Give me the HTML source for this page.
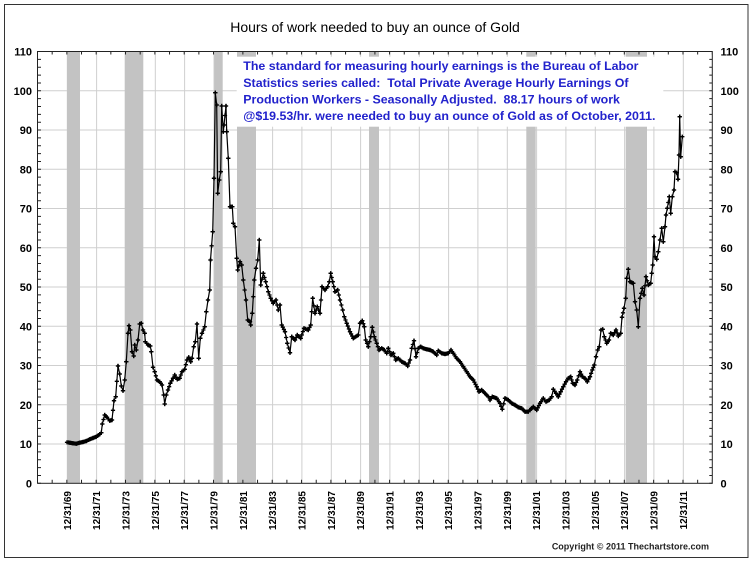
<!DOCTYPE html>
<html><head><meta charset="utf-8"><style>
html,body{margin:0;padding:0;background:#fff;}
svg{display:block;}
text{font-family:"Liberation Sans",Arial,sans-serif;}
</style></head><body>
<svg id="s" width="750" height="562" viewBox="0 0 750 562" xmlns="http://www.w3.org/2000/svg">
<defs>
<marker id="m" markerWidth="5" markerHeight="5" refX="2.5" refY="2.5" markerUnits="userSpaceOnUse"><path d="M0.4 2.5H4.6M2.5 0.4V4.6" stroke="#000" stroke-width="1.35" fill="none"/></marker>
</defs>
<rect x="0" y="0" width="750" height="562" fill="#fff"/>
<rect x="4.5" y="4.5" width="743.5" height="553" fill="#fff" stroke="#333" stroke-width="1"/>
<text x="375" y="32" font-size="14" text-anchor="middle" fill="#000">Hours of work needed to buy an ounce of Gold</text>
<rect x="37.5" y="51.5" width="674.8" height="431.8" fill="#fff"/>
<g stroke="#cfcfcf" stroke-width="1">
<line x1="37.5" x2="712.3" y1="444.05" y2="444.05"/>
<line x1="37.5" x2="712.3" y1="404.8" y2="404.8"/>
<line x1="37.5" x2="712.3" y1="365.55" y2="365.55"/>
<line x1="37.5" x2="712.3" y1="326.3" y2="326.3"/>
<line x1="37.5" x2="712.3" y1="287.05" y2="287.05"/>
<line x1="37.5" x2="712.3" y1="247.8" y2="247.8"/>
<line x1="37.5" x2="712.3" y1="208.55" y2="208.55"/>
<line x1="37.5" x2="712.3" y1="169.3" y2="169.3"/>
<line x1="37.5" x2="712.3" y1="130.05" y2="130.05"/>
<line x1="37.5" x2="712.3" y1="90.8" y2="90.8"/>
<line y1="51.5" y2="483.3" x1="67.3" x2="67.3"/>
<line y1="51.5" y2="483.3" x1="96.6" x2="96.6"/>
<line y1="51.5" y2="483.3" x1="126" x2="126"/>
<line y1="51.5" y2="483.3" x1="155.3" x2="155.3"/>
<line y1="51.5" y2="483.3" x1="184.6" x2="184.6"/>
<line y1="51.5" y2="483.3" x1="214" x2="214"/>
<line y1="51.5" y2="483.3" x1="243.3" x2="243.3"/>
<line y1="51.5" y2="483.3" x1="272.6" x2="272.6"/>
<line y1="51.5" y2="483.3" x1="301.9" x2="301.9"/>
<line y1="51.5" y2="483.3" x1="331.3" x2="331.3"/>
<line y1="51.5" y2="483.3" x1="360.6" x2="360.6"/>
<line y1="51.5" y2="483.3" x1="389.9" x2="389.9"/>
<line y1="51.5" y2="483.3" x1="419.3" x2="419.3"/>
<line y1="51.5" y2="483.3" x1="448.6" x2="448.6"/>
<line y1="51.5" y2="483.3" x1="477.9" x2="477.9"/>
<line y1="51.5" y2="483.3" x1="507.3" x2="507.3"/>
<line y1="51.5" y2="483.3" x1="536.6" x2="536.6"/>
<line y1="51.5" y2="483.3" x1="565.9" x2="565.9"/>
<line y1="51.5" y2="483.3" x1="595.3" x2="595.3"/>
<line y1="51.5" y2="483.3" x1="624.6" x2="624.6"/>
<line y1="51.5" y2="483.3" x1="653.9" x2="653.9"/>
<line y1="51.5" y2="483.3" x1="683.3" x2="683.3"/>
</g>
<g fill="#c3c3c3">
<rect x="67" y="51.5" width="13" height="431.8"/>
<rect x="124.7" y="51.5" width="18.6" height="431.8"/>
<rect x="214.3" y="51.5" width="8.4" height="431.8"/>
<rect x="237" y="51.5" width="19" height="431.8"/>
<rect x="369" y="51.5" width="10" height="431.8"/>
<rect x="526.3" y="51.5" width="9.4" height="431.8"/>
<rect x="625.7" y="51.5" width="21.3" height="431.8"/>
</g>
<g stroke="#222" fill="none">
<line x1="37" y1="53" x2="712.5" y2="53" stroke-width="3" stroke-dasharray="1 13.67"/>
<line x1="37" y1="481.5" x2="712.5" y2="481.5" stroke-width="3.5" stroke-dasharray="1 13.67"/>
<line x1="39.5" y1="483.8" x2="39.5" y2="51" stroke-width="3" stroke-dasharray="1 6.85"/>
<line x1="710.8" y1="483.8" x2="710.8" y2="51" stroke-width="3" stroke-dasharray="1 6.85"/>
</g>
<rect x="37.5" y="51.5" width="674.8" height="431.8" fill="none" stroke="#222" stroke-width="1"/>
<polyline id="series" fill="none" stroke="#000" stroke-width="1.2" stroke-linejoin="round" marker-start="url(#m)" marker-mid="url(#m)" marker-end="url(#m)" points="67,442.3 69.7,442.7 73,443.3 76.3,443.7 79.7,442.7 83,442 86.3,441 89.7,439.3 93,438 96.3,436.7 99.7,434.3 101.3,432.7 102.3,424 104.7,415 107,417.3 109.7,420.7 112,420 114,400.7 115.7,396.7 118,366 119.7,374 121.3,386 123,390.7 124.7,380 126.3,361.7 128,333.3 129,325.7 130.3,330 132,351.7 133.7,356 134.7,345 136.3,350 138,340 139.7,324 141.3,323.3 143,330 144.7,333.3 145.3,341.7 148,345 150.3,346 151.3,351.7 153,367.3 154.7,371.7 157,380 159.7,381.7 162,385 163.7,395 164.7,404 166.3,395 168,390 170.3,383.3 173,378.3 174.7,375 177.3,379.3 179.7,378.3 182,371.7 184.7,369.3 187,360 188.7,357.3 190.7,361.7 192,358.3 193.7,346.7 195.3,341.7 197,324 198.7,358.3 200.3,338.3 202,333.3 204.7,326.7 206.3,311.7 208,300 209.7,290 210.5,260 212.7,231.7 214,178.3 215.3,92.7 216.7,105 217.7,193.3 219.3,180 220.7,171.7 221.7,106 223.3,131.7 224,125 226,106 226.7,131.7 228.3,158.3 230,206.7 232.3,206.7 233.3,223.3 235,226.7 236.7,258.3 237.7,270 240,261.7 241.7,265 243.3,280 246,300 247.7,320 250,321.7 250.7,325 252.3,313.3 254.3,280 256,268.3 257.7,260 259.3,240 260.7,285 263.3,273.3 265.7,281.7 268.3,291.7 270.7,298.3 273.3,303.3 276,300 278.3,310 280,305 281.7,325 285,331.7 287.3,343.3 290,352.7 291.7,336.7 295,340 297.3,335 300.7,338.3 304,328.3 308.3,330 310.7,325 312.7,298.3 315,313.3 317.3,306.7 320,313.3 322,286.7 325,290 327.7,286.7 329.3,281.7 330.7,273.3 332.7,281.7 335,291.7 337.7,290 340,300 342.7,310 344.3,316.7 346.7,323.3 350,331.7 353.3,338.3 358.3,335 360,323.3 362.3,320.7 364.3,326.7 365.7,340 368.3,346.7 370.7,336.7 372.3,327.3 374.3,336.7 376.7,343.3 379,350 381.7,348.3 384.3,350 386.7,353.3 388.3,348.3 391,355 393.3,353.3 395.7,360 398.3,358.3 401.7,361.7 405,363.3 407.7,366 410,360 411.7,348.3 414,340.7 416,356.7 418.3,348.3 420.7,346.7 423.3,348.3 426.7,349.3 430,350 433.3,351.7 436.7,355 438.3,350.7 441.7,353.3 445,354 448.3,353.3 451,350 453.3,353.3 456.7,358.3 460,361.7 463.3,366.7 466.7,371.7 470,376.7 473.3,380 476.7,386.7 479,391.7 481.7,390 485,393.3 488.3,396.7 490,400 492.3,396.7 496.7,398.3 500,403.3 502.3,409.3 505,398.3 508.3,400 511.7,403.3 515,405 518.3,407.3 521.7,408.3 525,411.7 528.3,411.7 530,410 533.3,406.7 536.7,410 540,403.3 543.3,398.3 546,401.7 549.3,400 551.7,396.7 553.3,389.3 556,393.3 558.3,396.7 560.7,391.7 563.3,386.7 566,381.7 568.3,378.3 570.7,376.7 572.7,383.3 575,385 577.3,380 580,371.7 582.3,376.7 585,378.3 587.3,381.7 590,376.7 592.3,370 594.3,365 596,356.7 597.7,350 599.3,346.7 601,330 602.7,329.3 604.3,336.7 606.7,343.3 609,340 610.7,333.3 613.3,335 616,330 618.3,336 620.7,333.3 622,317.3 624,308.3 625.7,298.3 626.7,278.3 628.3,269.3 630,281.7 633.3,283.3 635,301.7 636.7,310 638.3,326.7 640,298.3 642.3,288.3 644,295 646,276.7 648.3,285 650.7,283.3 651.7,273.3 652.7,265 654,236.7 655,256.7 656.7,259.3 658.3,251.7 660,240 661.7,228.3 663.3,241.7 665,226.7 666,215 667.3,208.3 669.3,196.7 670.7,213.3 672.3,196.7 674,190 675,171.7 676.7,172.7 678,179.3 679,155 679.7,116.7 680.7,156.7 682.3,136.7"/>
<polyline id="dense" fill="none" stroke="none" marker-mid="url(#m)" points=""/>
<rect x="236.7" y="56.7" width="426.6" height="70" fill="#fff"/>
<g font-size="12.4" font-weight="bold" fill="#2222cc" style="white-space:pre">
<text x="243.3" y="70.2" xml:space="preserve">The standard for measuring hourly earnings is the Bureau of Labor</text>
<text x="243.3" y="86.8" xml:space="preserve">Statistics series called:  Total Private Average Hourly Earnings Of</text>
<text x="243.3" y="103.4" xml:space="preserve">Production Workers - Seasonally Adjusted.  88.17 hours of work</text>
<text x="243.3" y="120.1" xml:space="preserve">@$19.53/hr. were needed to buy an ounce of Gold as of October, 2011.</text>
</g>
<g font-size="11" font-weight="bold" fill="#000" text-anchor="end">
<text x="32" y="487.3">0</text>
<text x="32" y="448">10</text>
<text x="32" y="408.8">20</text>
<text x="32" y="369.5">30</text>
<text x="32" y="330.3">40</text>
<text x="32" y="291">50</text>
<text x="32" y="251.8">60</text>
<text x="32" y="212.5">70</text>
<text x="32" y="173.3">80</text>
<text x="32" y="134">90</text>
<text x="32" y="94.8">100</text>
<text x="32" y="55.5">110</text>
</g>
<g font-size="11" font-weight="bold" fill="#000" text-anchor="start">
<text x="720.5" y="487.3">0</text>
<text x="720.5" y="448">10</text>
<text x="720.5" y="408.8">20</text>
<text x="720.5" y="369.5">30</text>
<text x="720.5" y="330.3">40</text>
<text x="720.5" y="291">50</text>
<text x="720.5" y="251.8">60</text>
<text x="720.5" y="212.5">70</text>
<text x="720.5" y="173.3">80</text>
<text x="720.5" y="134">90</text>
<text x="720.5" y="94.8">100</text>
<text x="720.5" y="55.5">110</text>
</g>
<g font-size="10" font-weight="bold" fill="#000" text-anchor="end">
<text transform="translate(70.9,491) rotate(-90)">12/31/69</text>
<text transform="translate(100.2,491) rotate(-90)">12/31/71</text>
<text transform="translate(129.6,491) rotate(-90)">12/31/73</text>
<text transform="translate(158.9,491) rotate(-90)">12/31/75</text>
<text transform="translate(188.2,491) rotate(-90)">12/31/77</text>
<text transform="translate(217.6,491) rotate(-90)">12/31/79</text>
<text transform="translate(246.9,491) rotate(-90)">12/31/81</text>
<text transform="translate(276.2,491) rotate(-90)">12/31/83</text>
<text transform="translate(305.5,491) rotate(-90)">12/31/85</text>
<text transform="translate(334.9,491) rotate(-90)">12/31/87</text>
<text transform="translate(364.2,491) rotate(-90)">12/31/89</text>
<text transform="translate(393.5,491) rotate(-90)">12/31/91</text>
<text transform="translate(422.9,491) rotate(-90)">12/31/93</text>
<text transform="translate(452.2,491) rotate(-90)">12/31/95</text>
<text transform="translate(481.5,491) rotate(-90)">12/31/97</text>
<text transform="translate(510.9,491) rotate(-90)">12/31/99</text>
<text transform="translate(540.2,491) rotate(-90)">12/31/01</text>
<text transform="translate(569.5,491) rotate(-90)">12/31/03</text>
<text transform="translate(598.9,491) rotate(-90)">12/31/05</text>
<text transform="translate(628.2,491) rotate(-90)">12/31/07</text>
<text transform="translate(657.5,491) rotate(-90)">12/31/09</text>
<text transform="translate(686.9,491) rotate(-90)">12/31/11</text>
</g>
<text x="709" y="549.3" font-size="9" font-weight="bold" fill="#222" text-anchor="end">Copyright © 2011 Thechartstore.com</text>
</svg>
<script>
(function(){
var p=document.getElementById('series').getAttribute('points').trim().split(/\s+/).map(function(s){return s.split(',').map(Number);});
var out=[];
for(var i=0;i<p.length-1;i++){
var x0=p[i][0],y0=p[i][1],x1=p[i+1][0],y1=p[i+1][1];
var n=Math.max(1,Math.round((x1-x0)/1.25));
for(var k=0;k<n;k++){out.push((x0+(x1-x0)*k/n).toFixed(2)+','+(y0+(y1-y0)*k/n).toFixed(2));}
}
out.push(p[p.length-1].join(','));
document.getElementById('dense').setAttribute('points',out.join(' '));
})();
</script>
</body></html>
